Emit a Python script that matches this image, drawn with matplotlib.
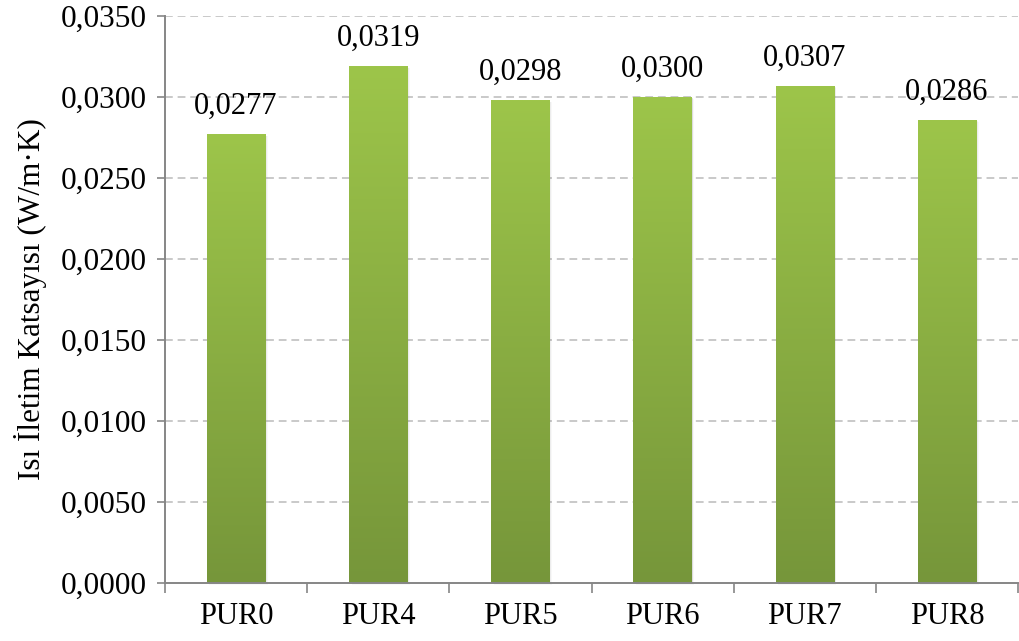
import numpy as np
import matplotlib
matplotlib.use('Agg')
import matplotlib.pyplot as plt
from matplotlib.colors import LinearSegmentedColormap
from matplotlib.patches import Rectangle

samples = ['PUR0', 'PUR4', 'PUR5', 'PUR6', 'PUR7', 'PUR8']
conductivity = [0.0277, 0.0319, 0.0298, 0.0300, 0.0307, 0.0286]
y_ticks = [0.0, 0.005, 0.010, 0.015, 0.020, 0.025, 0.030, 0.035]

plt.rcParams['font.family'] = ['Liberation Serif', 'DejaVu Serif']

fig = plt.figure(figsize=(10.19, 6.41), dpi=100)
ax = fig.add_axes([165 / 1019, 58 / 641, 853 / 1019, 567 / 641])

ax.set_xlim(-0.5, len(samples) - 0.5)
ax.set_ylim(0, 0.035)

# dashed horizontal grid
for t in y_ticks[1:]:
    ax.axhline(t, color='#c9c9c9', lw=1.4, ls=(0, (4, 2.5)), zorder=0)

green = LinearSegmentedColormap.from_list('bar_green', ['#76963a', '#9dc54a'])
grad = np.linspace(0, 1, 256).reshape(-1, 1)
width = 0.41

for i, v in enumerate(conductivity):
    x0 = i - width / 2
    # soft shadow on the right and bottom
    for k, a in enumerate([0.10, 0.07, 0.04]):
        dx = 0.006 * (k + 1)
        dy = 0.00004 * (k + 1)
        ax.add_patch(Rectangle((x0 + dx, -dy), width, v, facecolor='#555555',
                               alpha=a, edgecolor='none', zorder=1, clip_on=False))
    rect = Rectangle((x0, 0), width, v, facecolor='none', edgecolor='none', zorder=2)
    ax.add_patch(rect)
    im = ax.imshow(grad, cmap=green, aspect='auto', origin='lower',
                   extent=(x0, x0 + width, 0, v), zorder=2)
    im.set_clip_path(rect)
    ax.text(i, v + 0.0008, f'{v:.4f}'.replace('.', ','), ha='center', va='bottom',
            fontsize=22, color='black')

ax.set_yticks(y_ticks)
ax.set_yticklabels([f'{t:.4f}'.replace('.', ',') for t in y_ticks], fontsize=22.5)
ax.set_xticks(range(len(samples)))
ax.set_xticklabels(samples, fontsize=22)
ax.set_xticks(np.arange(-0.5, len(samples)), minor=True)
ax.tick_params(axis='x', which='major', length=0, pad=14)
ax.tick_params(axis='x', which='minor', length=7.5, width=1.2, color='#868686')
ax.tick_params(axis='y', length=6, width=1.2, color='#868686', pad=7)

for side in ['top', 'right']:
    ax.spines[side].set_visible(False)
for side in ['left', 'bottom']:
    ax.spines[side].set_color('#868686')
    ax.spines[side].set_linewidth(1.4)

ax.set_ylabel('Isı İletim Katsayısı (W/m·K)', fontsize=22.5, labelpad=10)

fig.savefig('out.png', dpi=100)
